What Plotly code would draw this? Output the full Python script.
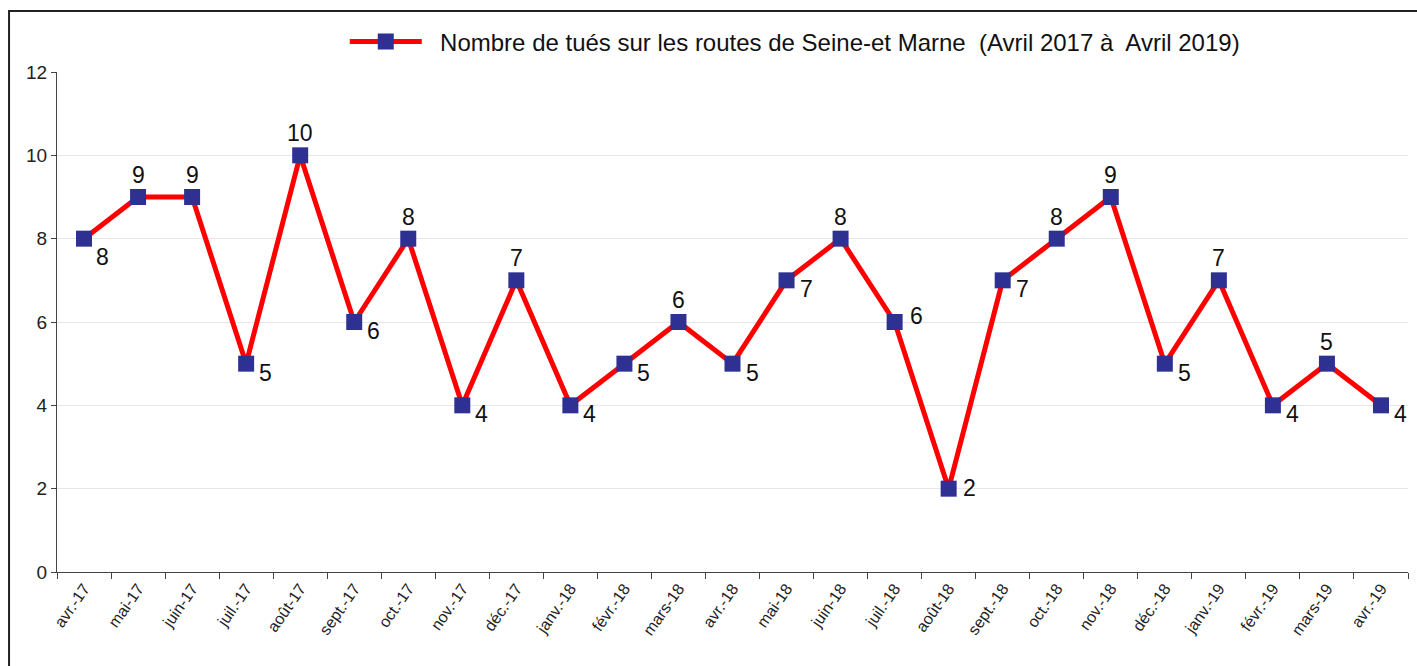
import plotly.graph_objects as go

months = ["avr.-17", "mai-17", "juin-17", "juil.-17", "août-17", "sept.-17", "oct.-17",
          "nov.-17", "déc.-17", "janv.-18", "févr.-18", "mars-18", "avr.-18", "mai-18",
          "juin-18", "juil.-18", "août-18", "sept.-18", "oct.-18", "nov.-18", "déc.-18",
          "janv.-19", "févr.-19", "mars-19", "avr.-19"]
deaths = [8, 9, 9, 5, 10, 6, 8, 4, 7, 4, 5, 6, 5, 7, 8, 6, 2, 7, 8, 9, 5, 7, 4, 5, 4]
# where each value label sits relative to its marker
label_side = ["below", "top", "top", "right", "top", "right", "top", "right", "top", "right",
              "right", "top", "right", "right", "top", "right_up", "right_mid", "right", "top",
              "top", "right", "top", "right", "top", "right"]
y_ticks = [0, 2, 4, 6, 8, 10, 12]
series_name = "\u00a0\u00a0Nombre de tués sur les routes de Seine-et Marne  (Avril 2017 à  Avril 2019)"

FONT = "Liberation Sans, Arial, sans-serif"

SHIFTS = {  # (xanchor, xshift, yshift) in pixels
    "top": ("center", 0, 22),
    "right": ("left", 11, -9),
    "right_up": ("left", 13, 6),
    "right_mid": ("left", 12, 1),
    "below": ("left", 10, -18),
}

fig = go.Figure()
fig.add_trace(go.Scatter(
    x=months, y=deaths, mode="lines+markers",
    name=series_name,
    line=dict(color="#FF0000", width=5),
    marker=dict(symbol="square", size=16, color="#2E3192"),
    cliponaxis=False,
))

annotations = []
for m, v, side in zip(months, deaths, label_side):
    xa, xs, ys = SHIFTS[side]
    annotations.append(dict(
        x=m, y=v, xref="x", yref="y", text=str(v), showarrow=False,
        xanchor=xa, yanchor="middle", xshift=xs, yshift=ys,
        font=dict(family=FONT, size=23, color="#111111"),
    ))

fig.update_layout(
    width=1417, height=666,
    margin=dict(l=57, r=9, t=72, b=94),
    paper_bgcolor="white", plot_bgcolor="white",
    font=dict(family=FONT, color="#111111"),
    showlegend=True,
    legend=dict(orientation="h", x=0.213, xanchor="left", y=1.06, yanchor="middle",
                font=dict(family=FONT, size=24, color="#111111"),
                itemwidth=72, bgcolor="rgba(0,0,0,0)"),
    xaxis=dict(
        type="category", tickson="boundaries", ticks="outside", ticklen=6,
        tickcolor="#444444", showline=True, linecolor="#444444", linewidth=1,
        showgrid=False, tickangle=-55, automargin=False,
        tickfont=dict(family=FONT, size=16, color="#222222"),
        range=[-0.5, len(months) - 0.5],
    ),
    yaxis=dict(
        range=[0, 12], tickvals=y_ticks, ticks="outside", ticklen=5,
        tickcolor="#444444", showline=True, linecolor="#444444", linewidth=1,
        showgrid=True, gridcolor="#E6E6E6", gridwidth=1, zeroline=False, automargin=False,
        tickfont=dict(family=FONT, size=19, color="#222222"),
    ),
    annotations=annotations,
    shapes=[dict(type="rect", xref="paper", yref="paper",
                 x0=-0.0355, x1=1.02, y0=-0.25, y1=1.122,
                 line=dict(color="#222222", width=2), fillcolor="rgba(0,0,0,0)", layer="below")],
)

fig.write_html("out.html", config={"displayModeBar": False},
               post_script="document.body.style.margin='0';document.body.style.padding='0';")
